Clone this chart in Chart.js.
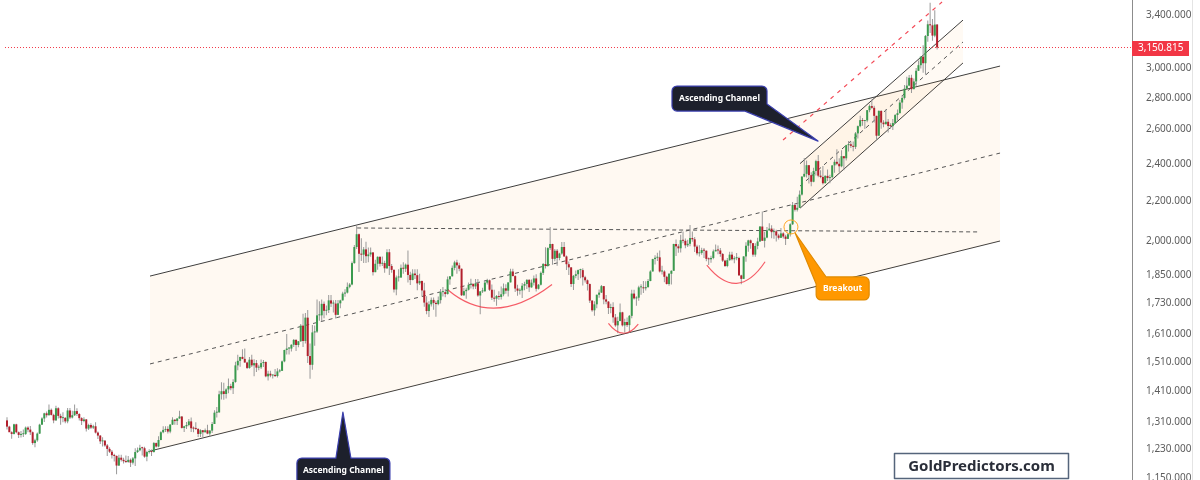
<!DOCTYPE html>
<html><head><meta charset="utf-8">
<script src="https://cdn.jsdelivr.net/npm/chart.js@4.4.1/dist/chart.umd.min.js"></script>
<style>html,body{margin:0;padding:0;background:#fff;}#wrap{width:1200px;height:480px;position:relative;overflow:hidden;}</style>
</head><body><div id="wrap"><canvas id="c" width="1200" height="480"></canvas></div>
<script>
// Weekly XAUUSD candles, week of 18 Sep 2017 (index 0) to week of 12 May 2025 (index 399)
const opens = [
1316,1297,1280,1275,1304,1280,1272,1274,1275,1294,
1288,1280,1248,1256,1276,1303,1322,1338,1332,1349,
1333,1316,1354,1330,1323,1324,1313,1347,1325,1332,
1345,1336,1323,1314,1319,1291,1302,1294,1298,1279,
1270,1253,1255,1241,1231,1223,1213,1211,1184,1206,
1200,1196,1194,1200,1192,1204,1222,1227,1234,1233,
1209,1222,1223,1222,1248,1238,1257,1280,1287,1290,
1282,1303,1318,1314,1322,1328,1293,1298,1302,1313,
1292,1291,1290,1275,1286,1280,1286,1276,1285,1305,
1340,1341,1399,1409,1400,1415,1426,1419,1440,1497,
1513,1527,1520,1507,1488,1517,1497,1505,1489,1490,
1505,1509,1459,1468,1462,1464,1460,1476,1478,1511,
1552,1557,1557,1571,1589,1570,1584,1643,1585,1674,
1530,1499,1617,1620,1683,1683,1729,1701,1704,1743,
1730,1730,1685,1731,1743,1771,1775,1799,1809,1902,
1975,2035,1944,1940,1964,1933,1941,1950,1862,1899,
1930,1899,1902,1879,1951,1889,1872,1788,1839,1839,
1881,1877,1895,1850,1828,1856,1849,1814,1824,1784,
1734,1700,1727,1745,1733,1728,1744,1777,1777,1769,
1831,1844,1881,1905,1892,1877,1764,1781,1787,1808,
1812,1801,1814,1763,1780,1781,1817,1827,1787,1754,
1750,1761,1757,1768,1793,1783,1818,1865,1845,1792,
1783,1784,1804,1811,1829,1797,1817,1835,1791,1808,
1859,1898,1889,1970,1989,1921,1958,1925,1945,1975,
1932,1897,1883,1811,1846,1853,1871,1871,1840,1827,
1811,1742,1703,1727,1766,1775,1802,1747,1738,1712,
1716,1675,1644,1661,1695,1644,1657,1645,1681,1771,
1751,1754,1797,1797,1793,1798,1824,1865,1920,1926,
1928,1865,1865,1842,1811,1855,1868,1989,1978,1969,
2007,2004,1983,1990,2017,2011,1977,1946,1948,1961,
1958,1921,1919,1925,1955,1962,1959,1943,1913,1889,
1915,1940,1919,1924,1925,1848,1833,1932,1981,2006,
1993,1940,1980,2001,2072,2004,2019,2053,2062,2045,
2049,2029,2018,2039,2024,2013,2035,2083,2179,2155,
2165,2233,2329,2344,2392,2337,2301,2360,2415,2334,
2327,2293,2333,2321,2326,2391,2411,2400,2386,2443,
2431,2507,2512,2503,2497,2577,2621,2658,2653,2656,
2721,2747,2736,2685,2563,2716,2643,2633,2648,2622,
2621,2640,2690,2702,2770,2800,2861,2882,2935,2858,
2910,2984,3023,3084,3037,3237,3327,3319,3240,3325];
const highs = [
1326,1300,1283,1306,1306,1282,1284,1288,1297,1298,
1299,1282,1261,1279,1306,1326,1340,1344,1366,1353,
1337,1362,1357,1337,1341,1326,1355,1355,1346,1366,
1354,1338,1326,1326,1320,1306,1307,1303,1310,1282,
1272,1265,1257,1245,1236,1228,1217,1212,1214,1214,
1206,1212,1211,1204,1208,1233,1235,1243,1237,1237,
1226,1230,1229,1251,1250,1268,1283,1298,1298,1298,
1305,1326,1320,1323,1346,1330,1300,1311,1320,1325,
1297,1310,1292,1289,1287,1291,1303,1287,1311,1348,
1358,1411,1439,1437,1419,1452,1434,1449,1510,1535,
1527,1555,1557,1510,1527,1535,1519,1516,1499,1518,
1516,1511,1478,1478,1465,1484,1487,1484,1514,1553,
1611,1563,1573,1592,1591,1584,1649,1689,1692,1704,
1576,1645,1643,1747,1739,1747,1738,1722,1765,1765,
1744,1745,1745,1746,1779,1789,1818,1815,1909,1984,
2075,2039,2016,1975,2000,1973,1973,1952,1917,1933,
1933,1932,1912,1965,1966,1898,1875,1848,1875,1896,
1906,1900,1959,1864,1875,1875,1875,1855,1826,1816,
1760,1739,1755,1755,1741,1759,1790,1798,1790,1843,
1845,1891,1912,1917,1903,1878,1795,1795,1818,1834,
1812,1832,1832,1782,1795,1823,1834,1830,1809,1787,
1765,1781,1801,1813,1810,1818,1877,1877,1849,1808,
1793,1815,1821,1831,1831,1830,1848,1853,1811,1865,
1902,1974,1974,2070,1990,1966,1966,1949,1998,1998,
1936,1909,1885,1850,1869,1874,1877,1879,1847,1830,
1813,1745,1739,1767,1788,1807,1803,1765,1740,1729,
1735,1688,1677,1730,1697,1670,1675,1684,1787,1787,
1760,1804,1810,1824,1823,1833,1870,1921,1937,1949,
1959,1890,1870,1847,1858,1870,1990,2010,1988,2032,
2048,2015,2009,2079,2048,2022,1985,1983,1972,1971,
1959,1927,1935,1964,1987,1982,1970,1948,1917,1925,
1953,1953,1933,1947,1931,1851,1933,1997,2009,2010,
1993,1993,2018,2075,2146,2047,2070,2088,2078,2062,
2057,2037,2065,2044,2032,2041,2088,2195,2185,2222,
2255,2331,2432,2418,2392,2353,2378,2422,2450,2364,
2387,2336,2368,2339,2392,2424,2483,2431,2477,2443,
2509,2531,2528,2529,2585,2625,2685,2671,2658,2722,
2758,2790,2750,2686,2721,2721,2657,2726,2665,2639,
2665,2697,2725,2786,2817,2886,2942,2954,2956,2930,
3004,3057,3086,3167,3245,3357,3500,3368,3438,3330];
const lows = [
1288,1281,1261,1273,1277,1263,1264,1266,1272,1280,
1272,1243,1236,1252,1275,1302,1311,1325,1331,1331,
1307,1315,1322,1303,1310,1307,1307,1320,1322,1330,
1330,1316,1302,1310,1282,1287,1290,1290,1276,1260,
1245,1238,1237,1211,1219,1204,1195,1160,1183,1195,
1190,1191,1192,1180,1187,1183,1219,1224,1212,1206,
1196,1218,1211,1221,1235,1236,1256,1277,1281,1276,
1277,1302,1303,1302,1321,1291,1281,1290,1298,1281,
1280,1287,1266,1266,1266,1279,1274,1267,1278,1305,
1325,1340,1382,1381,1385,1402,1412,1400,1437,1480,
1492,1519,1506,1484,1485,1491,1459,1474,1480,1484,
1491,1456,1445,1456,1452,1457,1455,1472,1477,1508,
1536,1536,1546,1563,1548,1562,1581,1563,1576,1505,
1451,1482,1567,1615,1662,1660,1672,1683,1692,1716,
1694,1671,1684,1711,1743,1758,1771,1793,1806,1899,
1966,1863,1911,1902,1902,1906,1930,1848,1862,1873,
1887,1889,1860,1876,1850,1860,1775,1764,1822,1837,
1855,1863,1817,1807,1827,1832,1785,1807,1761,1717,
1687,1676,1718,1705,1677,1723,1730,1759,1756,1767,
1808,1843,1870,1855,1866,1761,1761,1750,1784,1792,
1789,1790,1758,1687,1773,1778,1809,1782,1745,1737,
1721,1746,1747,1760,1770,1759,1817,1844,1778,1762,
1767,1753,1785,1790,1778,1795,1805,1780,1788,1805,
1850,1878,1886,1961,1895,1910,1890,1915,1940,1929,
1872,1850,1798,1786,1836,1828,1836,1805,1817,1784,
1732,1697,1681,1711,1754,1773,1727,1727,1688,1691,
1654,1639,1614,1660,1640,1617,1638,1616,1672,1747,
1721,1742,1766,1773,1784,1795,1823,1865,1896,1911,
1861,1852,1819,1809,1804,1809,1868,1934,1949,1950,
1992,1969,1975,1978,2000,1952,1937,1932,1940,1925,
1910,1893,1903,1919,1954,1942,1930,1907,1885,1884,
1913,1914,1901,1915,1846,1810,1833,1908,1953,1967,
1931,1931,1965,1998,2004,1973,2016,2053,2016,2013,
2001,2010,2017,2015,1984,2012,2024,2079,2146,2146,
2164,2228,2326,2324,2291,2277,2298,2335,2326,2320,
2286,2293,2305,2293,2318,2350,2392,2353,2381,2364,
2418,2470,2491,2471,2485,2546,2615,2624,2603,2645,
2708,2730,2643,2537,2563,2605,2614,2631,2583,2605,
2597,2635,2656,2699,2730,2790,2858,2877,2832,2857,
2880,2982,3000,2970,2956,3194,3260,3202,3228,3136];
const closes = [
1297,1280,1275,1304,1280,1272,1274,1275,1294,1288,
1280,1248,1256,1276,1303,1322,1338,1332,1349,1333,
1316,1354,1330,1323,1324,1313,1347,1325,1332,1345,
1336,1323,1314,1319,1291,1302,1294,1298,1279,1270,
1253,1255,1241,1231,1223,1213,1211,1184,1206,1200,
1196,1194,1200,1192,1204,1222,1227,1234,1233,1209,
1222,1223,1222,1248,1238,1257,1280,1287,1290,1282,
1303,1318,1314,1322,1328,1293,1298,1302,1313,1292,
1291,1290,1275,1286,1280,1286,1276,1285,1305,1340,
1341,1399,1409,1400,1415,1426,1419,1440,1497,1513,
1527,1520,1507,1488,1517,1497,1505,1489,1490,1505,
1509,1459,1468,1462,1464,1460,1476,1478,1511,1552,
1557,1557,1571,1589,1570,1584,1643,1585,1674,1530,
1499,1617,1620,1683,1683,1729,1701,1704,1743,1730,
1730,1685,1731,1743,1771,1775,1799,1809,1902,1975,
2035,1944,1940,1964,1933,1941,1950,1862,1899,1930,
1899,1902,1879,1951,1889,1872,1788,1839,1839,1881,
1877,1895,1850,1828,1856,1849,1814,1824,1784,1734,
1700,1727,1745,1733,1728,1744,1777,1777,1769,1831,
1844,1881,1905,1892,1877,1764,1781,1787,1808,1812,
1801,1814,1763,1780,1781,1817,1827,1787,1754,1750,
1761,1757,1768,1793,1783,1818,1865,1845,1792,1783,
1784,1804,1811,1829,1797,1817,1835,1791,1808,1859,
1898,1889,1970,1989,1921,1958,1925,1945,1975,1932,
1897,1883,1811,1846,1853,1871,1871,1840,1827,1811,
1742,1703,1727,1766,1775,1802,1747,1738,1712,1716,
1675,1644,1661,1695,1644,1657,1645,1681,1771,1751,
1754,1797,1797,1793,1798,1824,1865,1920,1926,1928,
1865,1865,1842,1811,1855,1868,1989,1978,1969,2007,
2004,1983,1990,2017,2011,1977,1946,1948,1961,1958,
1921,1919,1925,1955,1962,1959,1943,1913,1889,1915,
1940,1919,1924,1925,1848,1833,1932,1981,2006,1993,
1940,1980,2001,2072,2004,2019,2053,2062,2045,2049,
2029,2018,2039,2024,2013,2035,2083,2179,2155,2165,
2233,2329,2344,2392,2337,2301,2360,2415,2334,2327,
2293,2333,2321,2326,2391,2411,2400,2386,2443,2431,
2507,2512,2503,2497,2577,2621,2658,2653,2656,2721,
2747,2736,2685,2563,2716,2643,2633,2648,2622,2621,
2640,2690,2702,2770,2800,2861,2882,2935,2858,2910,
2984,3023,3084,3037,3237,3327,3319,3240,3325,3151];

// y-axis tick labels and current price
const yTickValues = [1150,1230,1310,1410,1510,1610,1730,1850,2000,2200,2400,2600,2800,3000,3400];
const lastPrice = 3150.815;

// drawing annotations in (candle index, price) space
const bigChannelUpper = [[61.35,1845],[426,3017]];
const bigChannelLower = [[61.35,1225],[426,2003]];
const bigChannelMid   = [[61.35,1502],[426,2461]];
const resistanceLine  = [[150.2,2065],[416.6,2046]];
const smallChannelUpper = [[340.2,2401],[410.1,3360]];
const smallChannelLower = [[340.2,2163],[410.1,3039]];
const smallChannelMid   = [[340.2,2278],[410.1,3192]];
const redTrendLine      = [[332.9,2537],[401.1,3505]];
const cupArcs = [
  [[189.2,1786],[210.2,1712],[233.8,1809]],
  [[258.0,1652],[264.4,1614],[270.8,1649]],
  [[300.2,1893],[313.0,1814],[325.2,1908]]
];
const calloutTopTip = [347.9,2531];
const calloutBottomTip = [144.1,1342];
const breakoutTip = [338.1,2041];
const breakoutCircle = [336.3,2070];
const calloutText = 'Ascending Channel';
const breakoutText = 'Breakout';
const brandText = 'GoldPredictors.com';

const xMin = -3.003, xMax = 482.6;
const yMin = 1144.6, yMax = 3521.6;

const UP = '#3a9a4e', DOWN = '#b31f2c', WICK = '#999999';
const FONT = "'Noto Sans', 'DejaVu Sans', sans-serif";

function fmt(v){
  const s = Number(v).toFixed(3);
  const parts = s.split('.');
  return parts[0].replace(/\B(?=(\d{3})+(?!\d))/g, ',') + '.' + parts[1];
}
const pts = a => a.map(p => ({x:p[0], y:p[1]}));
const idx = closes.map((_, i) => i);

function lineDs(points, opts){
  return Object.assign({type:'line', data: pts(points), pointRadius:0, borderWidth:1, tension:0, fill:false, order:15}, opts);
}

const datasets = [
  lineDs(bigChannelUpper, {borderColor:'#3e3e3e', fill:'+1', backgroundColor:'rgba(255,160,40,0.06)', order:30}),
  lineDs(bigChannelLower, {borderColor:'#3e3e3e', order:30}),
  lineDs(smallChannelUpper, {borderColor:'#3e3e3e', fill:'+1', backgroundColor:'rgba(255,160,40,0.05)', order:29}),
  lineDs(smallChannelLower, {borderColor:'#3e3e3e', order:29}),
  lineDs(bigChannelMid, {borderColor:'#555', borderDash:[4,4]}),
  lineDs(resistanceLine, {borderColor:'#555', borderDash:[4,3]}),
  lineDs(smallChannelMid, {borderColor:'#555', borderDash:[4,4]}),
  lineDs(redTrendLine, {borderColor:'rgba(242,54,69,0.9)', borderWidth:1.2, borderDash:[4,5]}),
  lineDs([[-0.86,lastPrice],[xMax,lastPrice]], {borderColor:'#f23645', borderDash:[1,2], order:14}),
  {type:'bar', data: idx.map(i => ({x:i, y:[lows[i], highs[i]]})), backgroundColor: WICK,
   barThickness:1, grouped:false, borderWidth:0, inflateAmount:0, order:2},
  {type:'bar', data: idx.map(i => ({x:i, y:[Math.min(opens[i],closes[i]), Math.max(opens[i],closes[i])]})),
   backgroundColor: idx.map(i => closes[i] >= opens[i] ? UP : DOWN),
   barThickness:2, grouped:false, borderWidth:0, inflateAmount:0, minBarLength:1, order:1}
];

function calloutPath(ctx, kind, t){
  const r = 5;
  ctx.beginPath();
  if (kind === 'top') {
    const L=t[0]-146, R=t[0]-51, Tp=t[1]-55, Bm=t[1]-30;
    ctx.moveTo(L+r,Tp); ctx.lineTo(R-r,Tp); ctx.arcTo(R,Tp,R,Tp+r,r);
    ctx.lineTo(R, Bm-7); ctx.lineTo(t[0],t[1]); ctx.lineTo(R-22, Bm);
    ctx.lineTo(L+r,Bm); ctx.arcTo(L,Bm,L,Bm-r,r); ctx.lineTo(L,Tp+r); ctx.arcTo(L,Tp,L+r,Tp,r);
  } else if (kind === 'bottom') {
    const L=t[0]-46, R=t[0]+47, Tp=t[1]+46, Bm=t[1]+72;
    ctx.moveTo(L+r,Tp); ctx.lineTo(t[0]-7,Tp); ctx.lineTo(t[0],t[1]); ctx.lineTo(t[0]+8,Tp);
    ctx.lineTo(R-r,Tp); ctx.arcTo(R,Tp,R,Tp+r,r); ctx.lineTo(R,Bm-r); ctx.arcTo(R,Bm,R-r,Bm,r);
    ctx.lineTo(L+r,Bm); ctx.arcTo(L,Bm,L,Bm-r,r); ctx.lineTo(L,Tp+r); ctx.arcTo(L,Tp,L+r,Tp,r);
  } else {
    const L=t[0]+21, R=t[0]+74, Tp=t[1]+44, Bm=t[1]+67;
    ctx.moveTo(L+10,Tp); ctx.lineTo(R-r,Tp); ctx.arcTo(R,Tp,R,Tp+r,r); ctx.lineTo(R,Bm-r); ctx.arcTo(R,Bm,R-r,Bm,r);
    ctx.lineTo(L+r,Bm); ctx.arcTo(L,Bm,L,Bm-r,r); ctx.lineTo(L,Tp+7); ctx.lineTo(t[0],t[1]);
  }
  ctx.closePath();
}

const annotations = {
  id:'annotations',
  afterDatasetsDraw(chart){
    const {ctx, scales:{x, y}, chartArea} = chart;
    ctx.save();
    ctx.beginPath(); ctx.rect(chartArea.left, chartArea.top, chartArea.width, chartArea.height); ctx.clip();
    ctx.strokeStyle = 'rgba(242,54,69,0.8)'; ctx.lineWidth = 1.2;
    cupArcs.forEach(a => {
      const p = a.map(q => [x.getPixelForValue(q[0]), y.getPixelForValue(q[1])]);
      const cx = 2*p[1][0] - (p[0][0]+p[2][0])/2, cy = 2*p[1][1] - (p[0][1]+p[2][1])/2;
      ctx.beginPath(); ctx.moveTo(p[0][0],p[0][1]); ctx.quadraticCurveTo(cx,cy,p[2][0],p[2][1]); ctx.stroke();
    });
    ctx.restore();
  },
  afterDraw(chart){
    const {ctx, scales:{x, y}, chartArea} = chart;
    const P = q => [x.getPixelForValue(q[0]), y.getPixelForValue(q[1])];
    ctx.save();
    ctx.strokeStyle = '#e4e4e4'; ctx.lineWidth = 1;
    ctx.beginPath(); ctx.moveTo(1192.5,0); ctx.lineTo(1192.5,480); ctx.stroke();
    const py = y.getPixelForValue(lastPrice);
    ctx.fillStyle = '#f23645'; ctx.fillRect(chartArea.right, Math.round(py)-7, 57, 15);
    ctx.fillStyle = '#fff'; ctx.font = '10px ' + FONT; ctx.textBaseline = 'middle'; ctx.textAlign = 'left';
    ctx.fillText(fmt(lastPrice), chartArea.right + 6, Math.round(py)+0.5);
    const bc = P(breakoutCircle);
    ctx.strokeStyle = '#ffa726'; ctx.lineWidth = 1;
    ctx.beginPath(); ctx.arc(bc[0], bc[1], 7, 0, Math.PI*2); ctx.stroke();
    const tTop = P(calloutTopTip), tBot = P(calloutBottomTip), tBr = P(breakoutTip);
    ctx.lineWidth = 1.2; ctx.lineJoin = 'round';
    calloutPath(ctx, 'top', tTop); ctx.fillStyle = '#1d202c'; ctx.fill(); ctx.strokeStyle = '#3b3fae'; ctx.stroke();
    calloutPath(ctx, 'bottom', tBot); ctx.fill(); ctx.stroke();
    calloutPath(ctx, 'br', tBr); ctx.fillStyle = '#ff9800'; ctx.fill(); ctx.strokeStyle = '#e08a00'; ctx.stroke();
    ctx.fillStyle = '#fff'; ctx.font = 'bold 8.5px ' + FONT; ctx.textAlign = 'center'; ctx.textBaseline = 'middle';
    ctx.fillText(calloutText, tTop[0]-98.5, tTop[1]-42.5);
    ctx.fillText(calloutText, tBot[0]+0.5, tBot[1]+59);
    ctx.fillText(breakoutText, tBr[0]+47.5, tBr[1]+56);
    ctx.strokeStyle = '#55657b'; ctx.lineWidth = 1.5;
    ctx.strokeRect(894.5, 453.5, 174, 25);
    ctx.fillStyle = '#2a2e39'; ctx.font = 'bold 15px ' + FONT; ctx.textAlign = 'center';
    ctx.fillText(brandText, 981.5, 466.5);
    ctx.restore();
  }
};

new Chart(document.getElementById('c'), {
  type: 'bar',
  data: { datasets },
  options: {
    responsive:false, devicePixelRatio:1, animation:false, events:[],
    layout:{padding:0},
    plugins:{legend:{display:false}, tooltip:{enabled:false}, title:{display:false}},
    scales:{
      x:{type:'linear', min:xMin, max:xMax, display:false, offset:false, grid:{offset:false}},
      y:{type:'logarithmic', position:'right', min:yMin, max:yMax, bounds:'data',
         grid:{display:false}, border:{display:true, color:'#8c8c8c', width:1},
         ticks:{autoSkip:false, padding:6, color:'#5c5c5c', crossAlign:'near',
                font:{size:10, family:FONT}, callback: v => fmt(v)},
         afterBuildTicks: s => { s.ticks = yTickValues.map(v => ({value:v})); },
         afterFit: s => { s.width = 68; s.paddingTop = 0; s.paddingBottom = 0; }
      }
    }
  },
  plugins:[annotations]
});
</script></body></html>
